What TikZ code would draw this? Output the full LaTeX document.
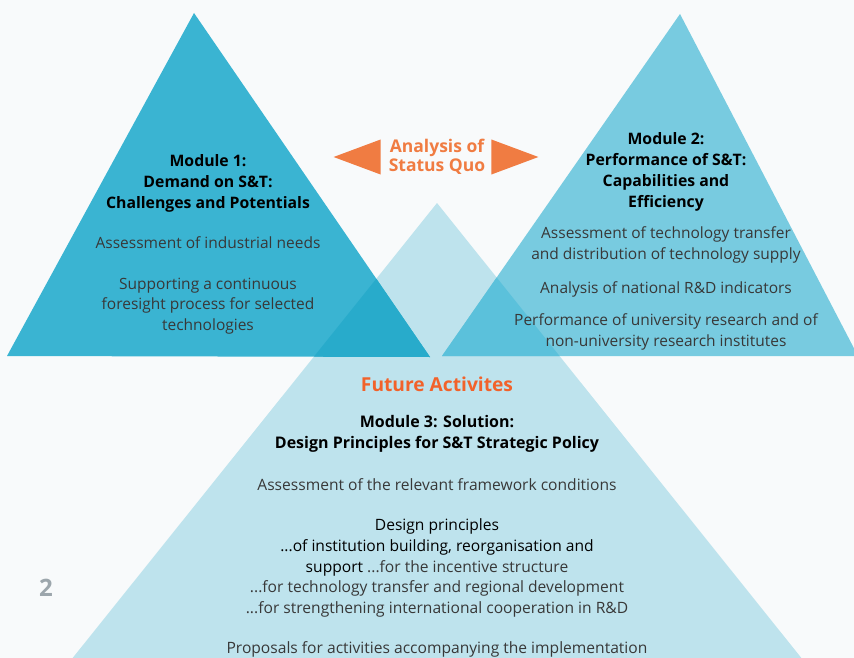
\documentclass[tikz,border=0pt]{standalone}
\usepackage{fontspec}
\setmainfont{Open Sans}
\usetikzlibrary{positioning}

\definecolor{pageback}{HTML}{F8FAFB}
\definecolor{modone}{HTML}{3AB4D2}
\definecolor{modtwo}{HTML}{78CBE0}
\definecolor{modthree}{HTML}{BEE3ED}
\definecolor{onethree}{HTML}{28ABCB}
\definecolor{twothree}{HTML}{5BC1DB}
\definecolor{statusorange}{HTML}{F07C42}
\definecolor{futureorange}{HTML}{F2622A}
\definecolor{bodytext}{HTML}{383838}
\definecolor{pagegrey}{HTML}{9CA6AC}

\begin{document}
\begin{tikzpicture}[x=1pt, y=-1pt,
    title/.style={align=center, inner sep=0pt, text=black,
        font=\fontsize{15.8}{21}\selectfont\bfseries},
    body/.style={align=center, inner sep=0pt, text=bodytext,
        font=\fontsize{15.5}{20.5}\selectfont},
    status/.style={align=center, inner sep=0pt, text=statusorange,
        font=\fontsize{17.5}{19}\selectfont\bfseries}]
        % page area
        \clip (0,0) rectangle (854,658);
        \fill[pageback] (0,0) rectangle (854,658);

        % corners of the three pyramids
        \coordinate (topA) at (194,13);
        \coordinate (leftA) at (7,356);
        \coordinate (rightA) at (430,357);
        \coordinate (topB) at (680,14);
        \coordinate (leftB) at (442,356);
        \coordinate (rightB) at (858,356);
        \coordinate (topC) at (437,203);
        \coordinate (leftC) at (39,700);
        \coordinate (rightC) at (835,700);

        % Module 3 pyramid sits behind
        \fill[modthree] (topC) -- (rightC) -- (leftC) -- cycle;
        % Module 1 and 2 pyramids
        \fill[modone] (topA) -- (rightA) -- (leftA) -- cycle;
        \fill[modtwo] (topB) -- (rightB) -- (leftB) -- cycle;
        % darker where they cover module 3
        \begin{scope}
            \clip (topC) -- (rightC) -- (leftC) -- cycle;
            \fill[onethree] (topA) -- (rightA) -- (leftA) -- cycle;
            \fill[twothree] (topB) -- (rightB) -- (leftB) -- cycle;
        \end{scope}

        % Module 1
        \node[title] (oneTitle) at (208,183) {Module 1:\\Demand on S\&T:\\Challenges and Potentials};
        \node[body] (oneNeeds) at (208,243) {Assessment of industrial needs};
        \node[body] (oneForesight) at (208,306) {Supporting a continuous\\foresight process for selected\\technologies};

        % Module 2
        \node[title] (twoTitle) at (666,172) {Module 2:\\Performance of S\&T:\\Capabilities and\\Efficiency};
        \node[body] (twoTransfer) at (666,245) {Assessment of technology transfer\\and distribution of technology supply};
        \node[body] (twoIndicators) at (666,289) {Analysis of national R\&D indicators};
        \node[body] (twoResearch) at (666,332) {Performance of university research and of\\non-university research institutes};

        % status quo arrows
        \node[status] (statusQuo) at (437,157) {Analysis of\\Status Quo};
        \fill[statusorange] ([xshift=-8pt]statusQuo.west) ++(0,-17.5) -- ++(0,35) -- ++(-47,-17.5) -- cycle;
        \fill[statusorange] ([xshift=6pt]statusQuo.east) ++(0,-17.5) -- ++(0,35) -- ++(47,-17.5) -- cycle;

        % Module 3
        \node[title, text=futureorange, font=\fontsize{19.2}{22}\selectfont\bfseries] (future) at (437,384) {Future Activites};
        \node[title, font=\fontsize{16}{20.5}\selectfont\bfseries] (threeTitle) at (437,434) {Module 3: Solution:\\Design Principles for S\&T Strategic Policy};
        \node[body, font=\fontsize{15.6}{20.6}\selectfont] (threeFramework) at (437,485) {Assessment of the relevant framework conditions};
        \node[body, font=\fontsize{15.6}{20.6}\selectfont] (threeDesign) at (437,568) {\textcolor{black}{Design principles}\\
            \textcolor{black}{...of institution building, reorganisation and}\\
            \textcolor{black}{support} ...for the incentive structure\\
            ...for technology transfer and regional development\\
            ...for strengthening international cooperation in R\&D};
        \node[body, font=\fontsize{15.6}{20.6}\selectfont] (threeProposals) at (437,649) {Proposals for activities accompanying the implementation};

        % page number
        \node[text=pagegrey, inner sep=0pt, font=\fontsize{24}{24}\selectfont\bfseries] (pageNo) at (46,588) {2};
\end{tikzpicture}
\end{document}
